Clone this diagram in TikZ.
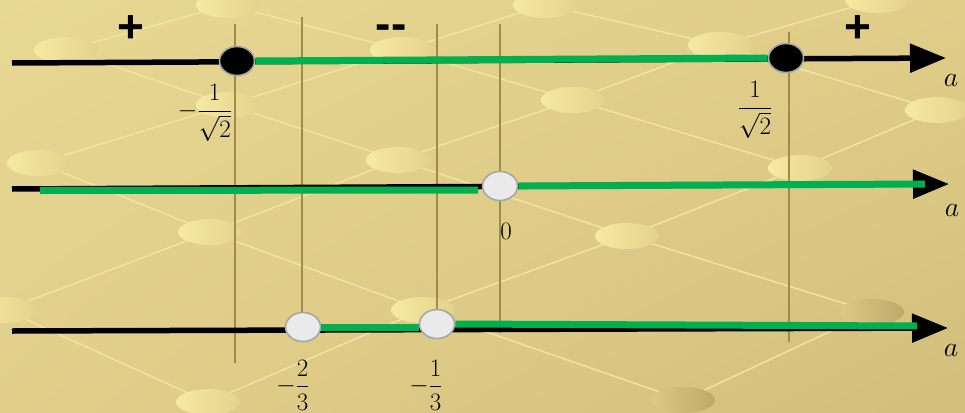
\RequirePackage{fix-cm}
\documentclass[tikz,border=0pt]{standalone}
\usepackage{amsmath}
\usepackage{fontspec}
\newfontfamily\signfont{Liberation Sans}
\usetikzlibrary{arrows.meta,shapes.geometric,shadings,positioning}
\definecolor{bgtl}{HTML}{E7D894}
\definecolor{bgtr}{HTML}{DFCD88}
\definecolor{bgbl}{HTML}{E1CF8A}
\definecolor{bgbr}{HTML}{D3BF7C}
\definecolor{weavecol}{HTML}{F1E3A2}
\definecolor{knobl}{HTML}{F6E9A2}
\definecolor{knobr}{HTML}{E4D28C}
\definecolor{knobdl}{HTML}{DDCA84}
\definecolor{knobdr}{HTML}{BEA96C}
\definecolor{okgreen}{HTML}{00B050}
\definecolor{dotgrey}{HTML}{A6A6A6}
\definecolor{dotfill}{HTML}{EAEAEA}
\definecolor{guidecol}{HTML}{A08C48}
\tikzset{
  axisline/.style={line width=5.5pt,black},
  hitline/.style={line width=7pt,color=okgreen},
  fulldot/.style={ellipse,draw=dotgrey,line width=1.6pt,fill=black,
    minimum width=35pt,minimum height=29pt,inner sep=0pt},
  emptydot/.style={fulldot,fill=dotfill},
  guide/.style={line width=1.4pt,color=guidecol},
  weave/.style={line width=1.5pt,color=weavecol},
  sign/.style={font=\signfont\bfseries\fontsize{46}{46}\selectfont,
    anchor=base,inner sep=0pt},
  lab/.style={font=\fontsize{25}{29}\selectfont,inner sep=0pt},
  axname/.style={font=\fontsize{28}{32}\selectfont,inner sep=0pt},
}

\begin{document}
\begin{tikzpicture}[x=1pt,y=-1pt,>={Triangle[length=36pt,width=28pt]}]
  \useasboundingbox (0,0) rectangle (965,412);
  \shade[upper left=bgtl,upper right=bgtr,lower left=bgbl,lower right=bgbr]
    (0,0) rectangle (965,412);
  % backdrop pattern
  \foreach \n/\x/\y in {A1/228/5,A2/545/5,A3/877/0,
      B1/66/50,B2/402/50,B3/720/45,
      C1/228/105,C2/573/100,C3/937/110,
      D1/39/163,D2/398/160,D3/800/168,
      E1/210/232,E2/627/236,
      F1/5/310,F2/423/310,F3/872/312,
      G1/208/402,G2/683/400}
    \coordinate (\n) at (\x,\y);
  \foreach \a/\b in {A1/B1,A1/B2,A2/B2,A2/B3,A3/B3,
      B1/C1,B2/C1,B2/C2,B3/C2,B3/C3,
      C1/D1,C1/D2,C2/D2,C2/D3,C3/D3,
      D1/E1,D2/E1,D2/E2,D3/E2,
      E1/F1,E1/F2,E2/F2,E2/F3,
      F1/G1,F2/G1,F2/G2,F3/G2}
    \draw[weave] (\a) -- (\b);
  \foreach \n in {A1,A2,A3,B1,B2,B3,C1,C2,C3,D1,D2,D3,E1,E2,F1,F2,G1}
    \shade[left color=knobl,right color=knobr] (\n) ellipse (32 and 13);
  \foreach \n in {F3,G2}
    \shade[left color=knobdl,right color=knobdr] (\n) ellipse (32 and 13);

  % guides
  \draw[guide] (235,24) -- (235,363);
  \draw[guide] (302,17) -- (302,327);
  \draw[guide] (437,24) -- (437,324);
  \draw[guide] (500,24) -- (500,333);
  \draw[guide] (789,32) -- (789,342);

  % first axis
  \coordinate (s1) at (12,63);
  \coordinate (e1) at (946,58);
  \draw[axisline,->] (s1) -- (e1);
  \node[fulldot] (m1) at (237,61) {};
  \node[fulldot] (p1) at (786,58) {};
  \draw[hitline] (m1.east) -- (p1.west);

  % second axis
  \coordinate (s2) at (12,189);
  \coordinate (e2) at (949,184);
  \coordinate (g2a) at (40,190.5);
  \coordinate (g2b) at (478,190);
  \coordinate (g2c) at (925,184);
  \draw[axisline,->] (s2) -- (e2);
  \draw[hitline] (g2a) -- (g2b);
  \node[emptydot] (z2) at (500,186) {};
  \draw[hitline] (z2.east) -- (g2c);

  % third axis
  \coordinate (s3) at (12,331);
  \coordinate (e3) at (948,328);
  \coordinate (g3) at (917,326);
  \draw[axisline,->] (s3) -- (e3);
  \node[emptydot] (q1) at (303,327) {};
  \node[emptydot] (q2) at (437,324) {};
  \draw[hitline] (q1.east) -- (q1.east -| q2.west);
  \draw[hitline] (q2.east) -- (g3);

  % labels
  \node[sign] (plusl) at (131,42) {+};
  \node[sign] (minusm) at (391,40) {-{}-};
  \node[sign] (plusr) at (858,42) {+};
  \node[lab] (lm1) at (205,113) {$-\dfrac{1}{\sqrt{2}}$};
  \node[lab] (lp1) at (755,110) {$\dfrac{1}{\sqrt{2}}$};
  \node[lab] (l0) at (506,231) {$0$};
  \node[lab] (lq1) at (293,385) {$-\dfrac{2}{3}$};
  \node[lab] (lq2) at (426,385) {$-\dfrac{1}{3}$};
  \node[axname] (a1) at (951,80) {$a$};
  \node[axname] (a2) at (952,210) {$a$};
  \node[axname] (a3) at (951,350) {$a$};
\end{tikzpicture}
\end{document}
